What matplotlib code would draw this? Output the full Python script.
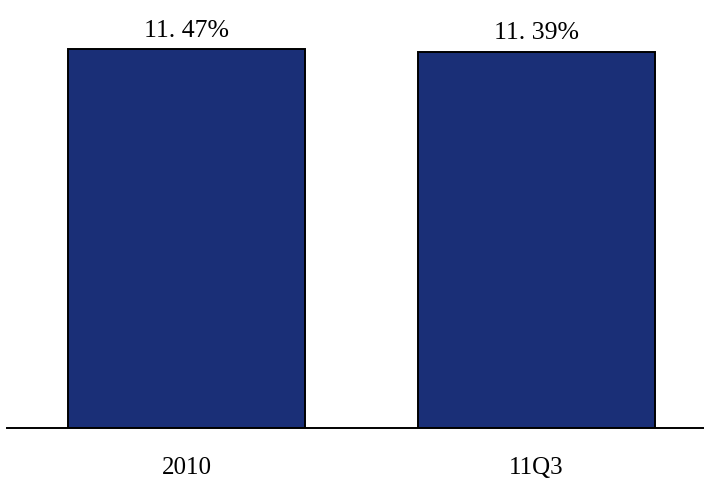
import matplotlib
matplotlib.use("Agg")
import matplotlib.pyplot as plt

categories = ["2010", "11Q3"]
values = [11.47, 11.39]
labels = ["11. 47%", "11. 39%"]

fig = plt.figure(figsize=(7.04, 4.81), dpi=100)
H = 481.0
ax = fig.add_axes([7/704, (H-429)/H, 1-7/704, 429/H])
ax.bar(range(len(values)), values, width=0.678, color="#1a2f77",
       edgecolor="black", linewidth=1.4, zorder=2)
ax.set_xlim(-0.514, 1.48)
ax.set_ylim(0, 429/33.04)
for s in ["top", "right", "left"]:
    ax.spines[s].set_visible(False)
ax.spines["bottom"].set_linewidth(1.4)
ax.spines["bottom"].set_zorder(3)
ax.set_yticks([])
ax.set_xticks(range(len(categories)))
ax.set_xticklabels(categories, family=["Liberation Serif", "DejaVu Serif"], fontsize=18)
ax.tick_params(axis="x", length=0, pad=20)
for i, (v, t) in enumerate(zip(values, labels)):
    ax.annotate(t, (i, v), xytext=(0, 6), textcoords="offset points",
                ha="center", va="bottom", fontsize=18.5,
                family=["Liberation Serif", "DejaVu Serif"])
fig.savefig("out.png", dpi=100)
